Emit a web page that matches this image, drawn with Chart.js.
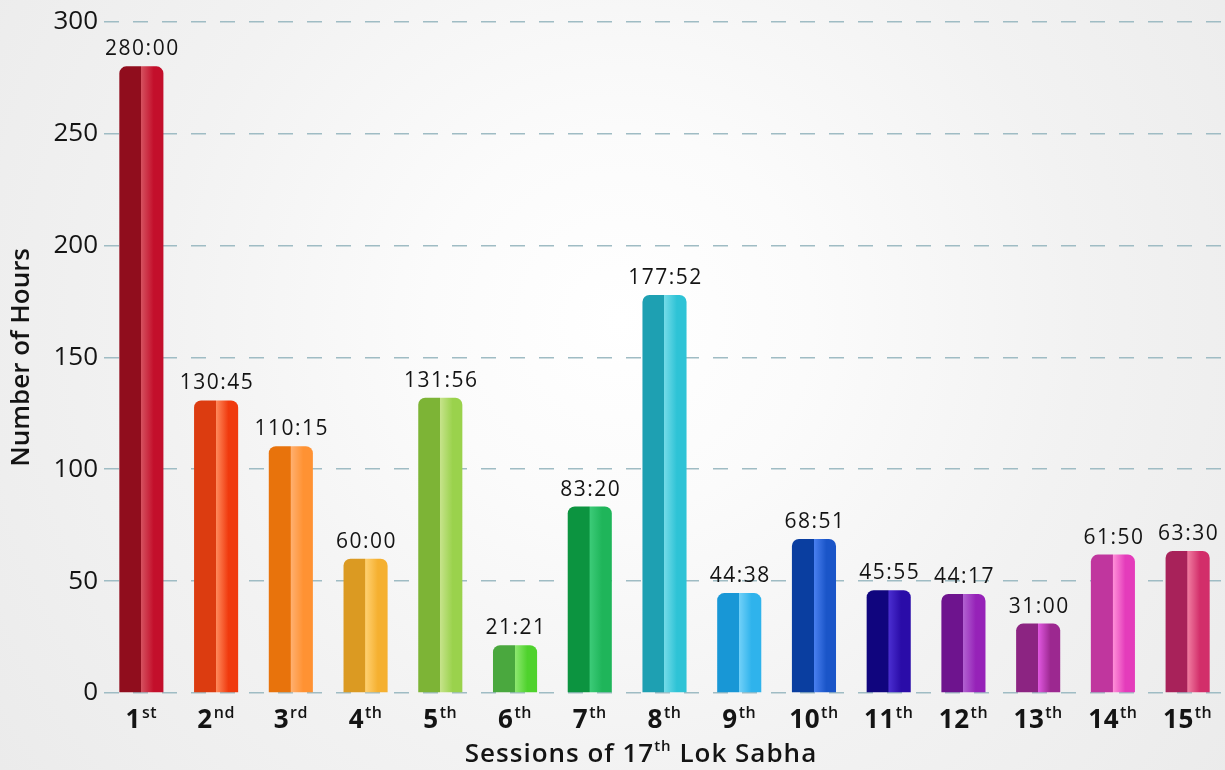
<!DOCTYPE html>
<html>
<head>
<meta charset="utf-8">
<script src="https://cdn.jsdelivr.net/npm/chart.js@4.4.1/dist/chart.umd.min.js"></script>
<style>
  html, body { margin: 0; padding: 0; }
  #wrap {
    width: 1225px; height: 770px;
    background: radial-gradient(circle at 620px 320px, #ffffff 0%, #fbfbfb 25%, #f2f2f2 60%, #ebebeb 100%);
  }
  canvas { display: block; }
</style>
</head>
<body>
<div id="wrap"><canvas id="chart" width="1225" height="770"></canvas></div>
<script>
// --- DATA ---
const sessionNums = ['1', '2', '3', '4', '5', '6', '7', '8', '9', '10', '11', '12', '13', '14', '15'];
const sessionSuffix = ['st', 'nd', 'rd', 'th', 'th', 'th', 'th', 'th', 'th', 'th', 'th', 'th', 'th', 'th', 'th'];
// jam kerja tiap sesi (jam desimal) dan label aslinya (HH:MM)
const hoursValues = [280.0, 130.75, 110.25, 60.0, 131.93, 21.35, 83.33, 177.87, 44.63, 68.85, 45.92, 44.28, 31.0, 61.83, 63.5];
const hoursLabels = ['280:00', '130:45', '110:15', '60:00', '131:56', '21:21', '83:20', '177:52', '44:38', '68:51', '45:55', '44:17', '31:00', '61:50', '63:30'];
const yTicks = [0, 50, 100, 150, 200, 250, 300];

// warna bar: [gelap kiri, highlight tengah, terang kanan]
const palette = [
  ['#900d1d', '#d4505e', '#c30f2b'],
  ['#dc3c10', '#ff8a5c', '#f03a0e'],
  ['#e8730c', '#ffb070', '#ff9233'],
  ['#db9a22', '#ffd070', '#f5b030'],
  ['#7db436', '#c6e38a', '#9ad24c'],
  ['#4aa83e', '#8ee870', '#4fd22d'],
  ['#0c9440', '#3ccb78', '#1fb55a'],
  ['#1ea0b2', '#72dbe8', '#2ec3d6'],
  ['#1897d6', '#70d0f8', '#2fb3ec'],
  ['#0a3ea0', '#4a80f0', '#1a55c8'],
  ['#10057e', '#4a2ed0', '#2a0ca8'],
  ['#6e148e', '#b060d0', '#9622b8'],
  ['#8c2482', '#e058e0', '#9c2890'],
  ['#c0369e', '#ff90d8', '#e43cbb'],
  ['#a8225a', '#f07ca0', '#d22e6a']
];

const FONT = "'Open Sans', 'Noto Sans', sans-serif";
const BAR_PCT = 0.59;

function barGradient(context) {
  const chart = context.chart;
  const i = context.dataIndex;
  const cols = palette[i];
  const xs = chart.scales.x;
  if (!chart.chartArea || !xs) return cols[0];
  const cx = xs.getPixelForValue(i);
  const w = (xs.width / sessionNums.length) * BAR_PCT;
  const g = chart.ctx.createLinearGradient(cx - w / 2, 0, cx + w / 2, 0);
  g.addColorStop(0, cols[0]);
  g.addColorStop(0.49, cols[0]);
  g.addColorStop(0.5, cols[1]);
  g.addColorStop(0.78, cols[2]);
  g.addColorStop(1, cols[2]);
  return g;
}

// spasi huruf biar mirip font aslinya (lebih lebar)
const spacingPlugin = {
  id: 'spacing',
  beforeInit(chart) { chart.ctx.letterSpacing = '1px'; }
};

// plugin untuk label nilai, label sumbu x dengan superscript
const labelPlugin = {
  id: 'labels',
  afterDatasetsDraw(chart) {
    const ctx = chart.ctx;
    const xs = chart.scales.x;
    const ys = chart.scales.y;
    ctx.save();
    ctx.fillStyle = '#141414';
    ctx.textAlign = 'center';
    ctx.textBaseline = 'alphabetic';
    ctx.letterSpacing = '1.5px';
    ctx.font = '21px ' + FONT;
    hoursValues.forEach((v, i) => {
      ctx.fillText(hoursLabels[i], xs.getPixelForValue(i) + 1, ys.getPixelForValue(v) - 11);
    });

    // label kategori
    ctx.letterSpacing = '0.5px';
    const base = chart.chartArea.bottom + 35;
    hoursValues.forEach((v, i) => {
      const cx = xs.getPixelForValue(i);
      ctx.font = 'bold 26px ' + FONT;
      const w1 = ctx.measureText(sessionNums[i]).width;
      ctx.font = '600 16px ' + FONT;
      const w2 = ctx.measureText(sessionSuffix[i]).width;
      const start = cx - (w1 + w2 + 1) / 2;
      ctx.textAlign = 'left';
      ctx.font = 'bold 26px ' + FONT;
      ctx.fillText(sessionNums[i], start, base);
      ctx.font = '600 16px ' + FONT;
      ctx.fillText(sessionSuffix[i], start + w1 + 1, base - 10);
    });

    // judul sumbu x
    ctx.letterSpacing = '1px';
    const parts = [['Sessions of 17', '600 26px '], ['th', '600 15px '], [' Lok Sabha', '600 26px ']];
    let total = 0;
    parts.forEach(p => { ctx.font = p[1] + FONT; total += ctx.measureText(p[0]).width; });
    let x = 641 - total / 2;
    const tb = chart.height - 8;
    parts.forEach((p, k) => {
      ctx.font = p[1] + FONT;
      ctx.fillText(p[0], x, k === 1 ? tb - 11 : tb);
      x += ctx.measureText(p[0]).width;
    });
    ctx.restore();
  }
};

const chart = new Chart(document.getElementById('chart').getContext('2d'), {
  type: 'bar',
  data: {
    labels: sessionNums.map((n, i) => n + sessionSuffix[i]),
    datasets: [{
      data: hoursValues,
      backgroundColor: barGradient,
      borderWidth: 0,
      borderRadius: { topLeft: 7, topRight: 7, bottomLeft: 0, bottomRight: 0 },
      borderSkipped: false,
      barPercentage: BAR_PCT,
      categoryPercentage: 1.0
    }]
  },
  options: {
    responsive: false,
    animation: false,
    layout: { padding: { top: 21, bottom: 77, right: 0, left: 0 } },
    plugins: { legend: { display: false }, tooltip: { enabled: false } },
    scales: {
      x: {
        display: false
      },
      y: {
        min: 0,
        max: 300,
        afterBuildTicks(scale) { scale.ticks = yTicks.map(v => ({ value: v })); },
        afterFit(scale) { scale.width = 104; },
        grid: {
          color: '#9fbcc4',
          lineWidth: 1.5,
          drawTicks: false
        },
        border: { display: false, dash: [15, 14] },
        ticks: {
          color: '#141414',
          padding: 6,
          font: { family: FONT, size: 26 }
        },
        title: {
          display: true,
          text: 'Number of Hours',
          color: '#141414',
          padding: { top: 6, bottom: 0 },
          font: { family: FONT, size: 26, weight: '600' }
        }
      }
    }
  },
  plugins: [spacingPlugin, labelPlugin]
});
</script>
</body>
</html>
